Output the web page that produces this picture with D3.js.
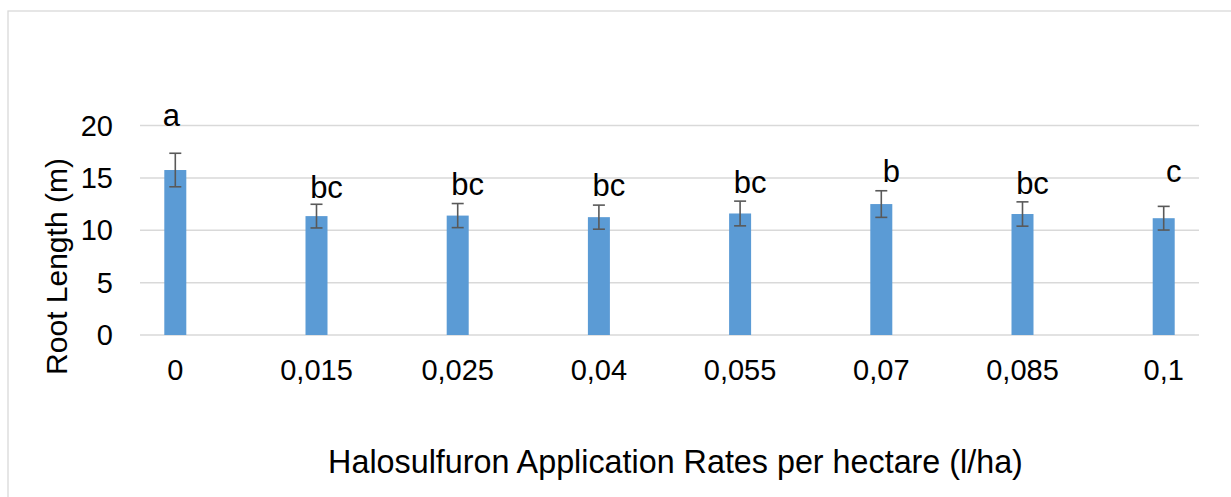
<!DOCTYPE html>
<html lang="en">
<head>
<meta charset="utf-8">
<script src="https://cdn.jsdelivr.net/npm/d3@7"></script>
<title>Root length</title>
<style>
body{
margin: 0;
background: #ffffff;
font-family: 'Liberation Sans', Arial, sans-serif;
}
svg{
display: block;
}
</style>
</head>
<body>
<svg width="1231" height="497"></svg>

<script>
var rates = ["0","0,015","0,025","0,04","0,055","0,07","0,085","0,1"];
var rootLength = [15.75, 11.35, 11.4, 11.25, 11.6, 12.5, 11.55, 11.15];
var errors = [1.6, 1.13, 1.15, 1.15, 1.18, 1.27, 1.16, 1.13];
var letters = ["a","bc","bc","bc","bc","b","bc","c"];
var letterLevel = [19.95, 13.1, 13.4, 13.25, 13.6, 14.6, 13.5, 14.6];
var yTicks = [0, 5, 10, 15, 20];

var plotLeft = 140, plotRight = 1199;
var plotTop = 125.5, plotBottom = 335;

var svg = d3.select("svg");

// chart area border (runs off the right and bottom edge)
svg.append("rect")
.attr("x",8).attr("y",11)
.attr("width",1300).attr("height",600)
.attr("fill","none")
.attr("stroke","#d9d9d9")
.attr("stroke-width",1.3);

var x = d3.scalePoint()
.domain(rates)
.range([plotLeft, plotRight])
.padding(0.25);

var y = d3.scaleLinear()
.domain([0, 20])
.range([plotBottom, plotTop]);

// gridlines
svg.append("g")
.selectAll("line")
.data(yTicks).enter()
.append("line")
.attr("x1",plotLeft).attr("x2",plotRight)
.attr("y1",function(d){return y(d)})
.attr("y2",function(d){return y(d)})
.attr("stroke","#d9d9d9")
.attr("stroke-width",1.5);

// y tick labels
svg.append("g")
.selectAll("text")
.data(yTicks).enter()
.append("text")
.attr("x",113)
.attr("y",function(d){return y(d)+10})
.attr("text-anchor","end")
.attr("font-size",29)
.attr("fill","#000000")
.text(function(d){return d});

// x tick labels
svg.append("g")
.selectAll("text")
.data(rates).enter()
.append("text")
.attr("x",function(d){return x(d)})
.attr("y",379.5)
.attr("text-anchor","middle")
.attr("font-size",29)
.attr("fill","#000000")
.text(function(d){return d});

var barW = 22;

// bars
svg.append("g")
.selectAll("rect")
.data(rates).enter()
.append("rect")
.attr("x",function(d){return x(d)-barW/2})
.attr("width",barW)
.attr("y",function(d,i){return y(rootLength[i])})
.attr("height",function(d,i){return y(0)-y(rootLength[i])})
.attr("fill","#5b9bd5");

// error bars
var err = svg.append("g")
.attr("stroke","#595959")
.attr("stroke-width",1.6)
.selectAll("g")
.data(rates).enter()
.append("g");

err.append("line")
.attr("x1",function(d){return x(d)}).attr("x2",function(d){return x(d)})
.attr("y1",function(d,i){return y(rootLength[i]+errors[i])})
.attr("y2",function(d,i){return y(rootLength[i]-errors[i])});

err.append("line")
.attr("x1",function(d){return x(d)-6}).attr("x2",function(d){return x(d)+6})
.attr("y1",function(d,i){return y(rootLength[i]+errors[i])})
.attr("y2",function(d,i){return y(rootLength[i]+errors[i])});

err.append("line")
.attr("x1",function(d){return x(d)-6}).attr("x2",function(d){return x(d)+6})
.attr("y1",function(d,i){return y(rootLength[i]-errors[i])})
.attr("y2",function(d,i){return y(rootLength[i]-errors[i])});

// significance letters
svg.append("g")
.selectAll("text")
.data(rates).enter()
.append("text")
.attr("x",function(d,i){return x(d)+(i==0 ? -4 : 10)})
.attr("y",function(d,i){return y(letterLevel[i])})
.attr("text-anchor","middle")
.attr("font-size",31)
.attr("fill","#000000")
.text(function(d,i){return letters[i]});

// axis titles
svg.append("text")
.attr("transform","translate(67,266.5) rotate(-90)")
.attr("text-anchor","middle")
.attr("font-size",30)
.attr("fill","#000000")
.text("Root Length (m)");

svg.append("text")
.attr("x",675.5)
.attr("y",472.5)
.attr("text-anchor","middle")
.attr("font-size",32.3)
.attr("fill","#000000")
.text("Halosulfuron Application Rates per hectare (l/ha)");
</script>
</body>
</html>
